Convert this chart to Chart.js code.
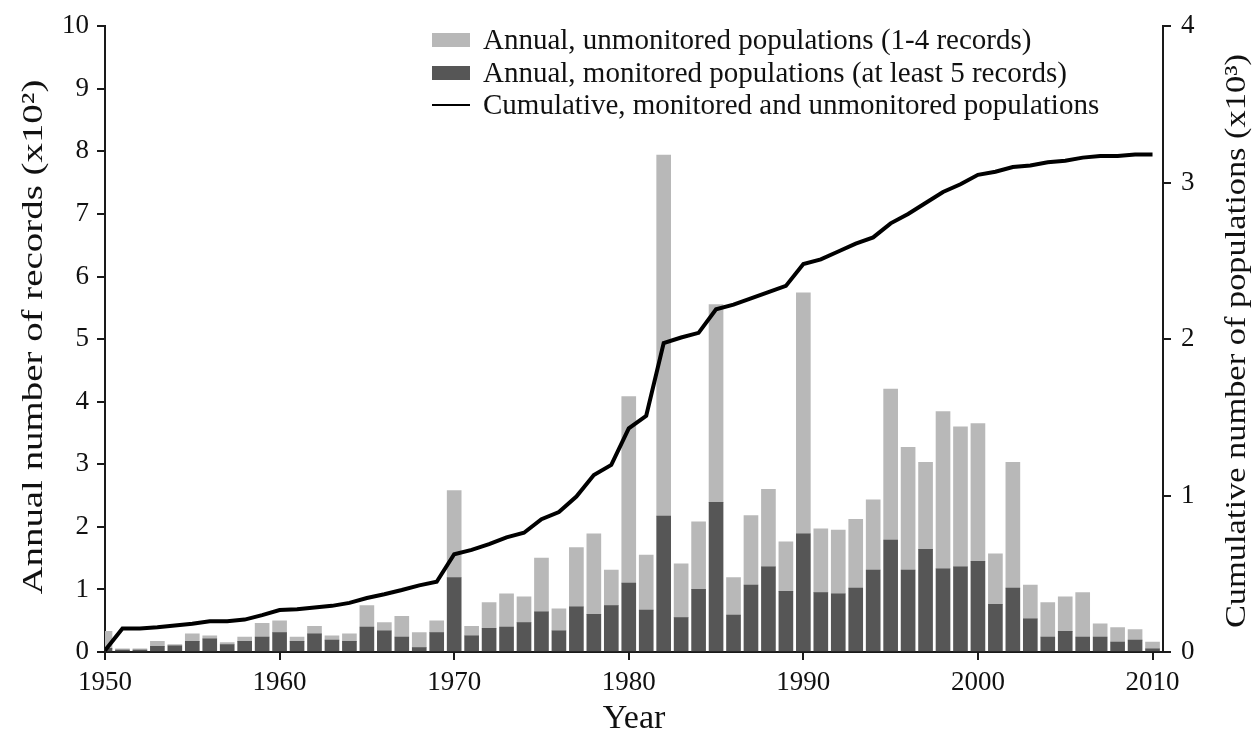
<!DOCTYPE html>
<html>
<head>
<meta charset="utf-8">
<script src="https://cdn.jsdelivr.net/npm/chart.js@4/dist/chart.umd.min.js"></script>
<style>
  html, body { margin: 0; padding: 0; background: #fff; }
  #wrap { width: 1254px; height: 736px; }
</style>
</head>
<body>
<div id="wrap"><canvas id="chart"></canvas></div>
<script>
// years on the x axis
const years = [];
for (let y = 1950; y <= 2010; y++) years.push(y);

// annual records (x10^2), monitored populations (at least 5 records)
const monitored = [
  0.06, 0.03, 0.03, 0.09, 0.10, 0.17, 0.21, 0.12, 0.17, 0.24,
  0.31, 0.17, 0.29, 0.19, 0.17, 0.40, 0.34, 0.24, 0.07, 0.31,
  1.19, 0.26, 0.38, 0.40, 0.47, 0.64, 0.34, 0.72, 0.60, 0.74,
  1.10, 0.67, 2.17, 0.55, 1.00, 2.39, 0.59, 1.07, 1.36, 0.97,
  1.89, 0.95, 0.93, 1.02, 1.31, 1.79, 1.31, 1.64, 1.33, 1.36,
  1.45, 0.76, 1.02, 0.53, 0.24, 0.33, 0.24, 0.24, 0.16, 0.19,
  0.05
];

// annual records (x10^2), unmonitored populations (1-4 records), stacked on top
const unmonitored = [
  0.27, 0.02, 0.02, 0.08, 0.02, 0.12, 0.05, 0.03, 0.07, 0.22,
  0.19, 0.07, 0.12, 0.07, 0.12, 0.34, 0.13, 0.33, 0.24, 0.19,
  1.39, 0.15, 0.41, 0.53, 0.41, 0.86, 0.35, 0.95, 1.29, 0.57,
  2.98, 0.88, 5.77, 0.86, 1.08, 3.16, 0.60, 1.11, 1.24, 0.79,
  3.85, 1.02, 1.02, 1.10, 1.12, 2.41, 1.96, 1.39, 2.51, 2.24,
  2.20, 0.81, 2.01, 0.54, 0.55, 0.55, 0.71, 0.21, 0.23, 0.17,
  0.11
];

// cumulative populations (x10^3)
const cumulative = [
  0.01, 0.15, 0.15, 0.158, 0.169, 0.18, 0.196, 0.196, 0.207, 0.236,
  0.268, 0.274, 0.284, 0.295, 0.314, 0.345, 0.369, 0.396, 0.426, 0.449,
  0.625, 0.653, 0.689, 0.733, 0.762, 0.849, 0.895, 0.994, 1.131, 1.196,
  1.43, 1.51, 1.975, 2.01, 2.04, 2.19, 2.22, 2.26, 2.30, 2.34,
  2.48, 2.51, 2.56, 2.61, 2.65, 2.74, 2.80, 2.87, 2.94, 2.99,
  3.05, 3.07, 3.10, 3.11, 3.13, 3.14, 3.16, 3.17, 3.17, 3.18,
  3.18
];

const xTicks = [1950, 1960, 1970, 1980, 1990, 2000, 2010];

const seriesNames = [
  "Annual, unmonitored populations (1-4 records)",
  "Annual, monitored populations (at least 5 records)",
  "Cumulative, monitored and unmonitored populations"
];
const leftTitle = "Annual number of records (x10²)";
const rightTitle = "Cumulative number of populations (x10³)";

const LIGHT = "#b8b8b8";
const DARK = "#565656";
const AXIS = "#1a1a1a";
const FONT = "'Liberation Serif', 'Times New Roman', serif";

const pts = arr => arr.map((v, i) => ({ x: years[i], y: v }));

// draws a rotated title stretched along its length to fill `len` pixels
function sideTitle(ctx, text, cx, cy, len) {
  ctx.save();
  ctx.font = "30px " + FONT;
  ctx.textAlign = "center";
  ctx.textBaseline = "middle";
  ctx.fillStyle = "#111";
  const w = ctx.measureText(text).width;
  ctx.translate(cx, cy);
  ctx.rotate(-Math.PI / 2);
  ctx.scale(len / w, 1);
  ctx.fillText(text, 0, 0);
  ctx.restore();
}

// legend and the two side titles, drawn inside the canvas
const extras = {
  id: "extras",
  afterDraw(chart) {
    const ctx = chart.ctx;
    ctx.save();
    ctx.font = "29px " + FONT;
    ctx.textBaseline = "middle";
    ctx.textAlign = "left";
    const rows = [40, 73, 105];
    ctx.fillStyle = LIGHT;
    ctx.fillRect(432, rows[0] - 7, 38, 14);
    ctx.fillStyle = DARK;
    ctx.fillRect(432, rows[1] - 7, 38, 14);
    ctx.strokeStyle = "#000";
    ctx.lineWidth = 2;
    ctx.beginPath();
    ctx.moveTo(432, rows[2]);
    ctx.lineTo(470, rows[2]);
    ctx.stroke();
    ctx.fillStyle = "#111";
    seriesNames.forEach((t, i) => ctx.fillText(t, 483, rows[i] + 1));
    ctx.restore();

    const a = chart.chartArea;
    const mid = (a.top + a.bottom) / 2;
    sideTitle(ctx, leftTitle, 34, mid - 2, 515);
    sideTitle(ctx, rightTitle, 1237, mid + 2, 574);
  }
};

new Chart(document.getElementById("chart"), {
  data: {
    datasets: [
      {
        type: "line",
        label: seriesNames[2],
        data: pts(cumulative),
        yAxisID: "y2",
        borderColor: "#000",
        borderWidth: 4,
        pointRadius: 0,
        tension: 0,
        order: 0
      },
      {
        type: "bar",
        label: seriesNames[1],
        data: pts(monitored),
        yAxisID: "y",
        backgroundColor: DARK,
        barThickness: 14,
        grouped: false,
        clip: 0,
        order: 1
      },
      {
        type: "bar",
        label: seriesNames[0],
        data: pts(unmonitored),
        yAxisID: "y",
        backgroundColor: LIGHT,
        barThickness: 14,
        grouped: false,
        clip: 0,
        order: 1
      }
    ]
  },
  options: {
    responsive: true,
    maintainAspectRatio: false,
    animation: false,
    layout: { padding: { top: 19, left: 0, right: 0, bottom: 0 } },
    plugins: {
      legend: { display: false },
      tooltip: { enabled: false }
    },
    scales: {
      x: {
        type: "linear",
        min: 1950,
        max: 2010.6,
        offset: false,
        afterBuildTicks: s => { s.ticks = xTicks.map(v => ({ value: v })); },
        afterFit: s => { s.height = 84; },
        border: { color: AXIS, width: 2 },
        grid: { offset: false, drawOnChartArea: false, drawTicks: true, tickLength: 8, color: AXIS, lineWidth: 2 },
        ticks: {
          color: "#111",
          font: { size: 27, family: FONT },
          padding: 7,
          maxRotation: 0,
          autoSkip: false,
          callback: v => String(v)
        },
        title: {
          display: true,
          text: "Year",
          color: "#111",
          font: { size: 34, family: FONT, lineHeight: 1.0 },
          padding: { top: 0, bottom: 0 }
        }
      },
      y: {
        position: "left",
        stacked: true,
        min: 0,
        max: 10,
        afterFit: s => { s.width = 105; },
        border: { color: AXIS, width: 2 },
        grid: { drawOnChartArea: false, drawTicks: true, tickLength: 8, color: AXIS, lineWidth: 2 },
        ticks: {
          stepSize: 1,
          color: "#111",
          font: { size: 27, family: FONT },
          padding: 8
        }
      },
      y2: {
        position: "right",
        min: 0,
        max: 4,
        afterFit: s => { s.width = 91; },
        border: { color: AXIS, width: 2 },
        grid: { drawOnChartArea: false, drawTicks: true, tickLength: 8, color: AXIS, lineWidth: 2 },
        ticks: {
          stepSize: 1,
          color: "#111",
          font: { size: 27, family: FONT },
          padding: 10
        }
      }
    }
  },
  plugins: [extras]
});
</script>
</body>
</html>
